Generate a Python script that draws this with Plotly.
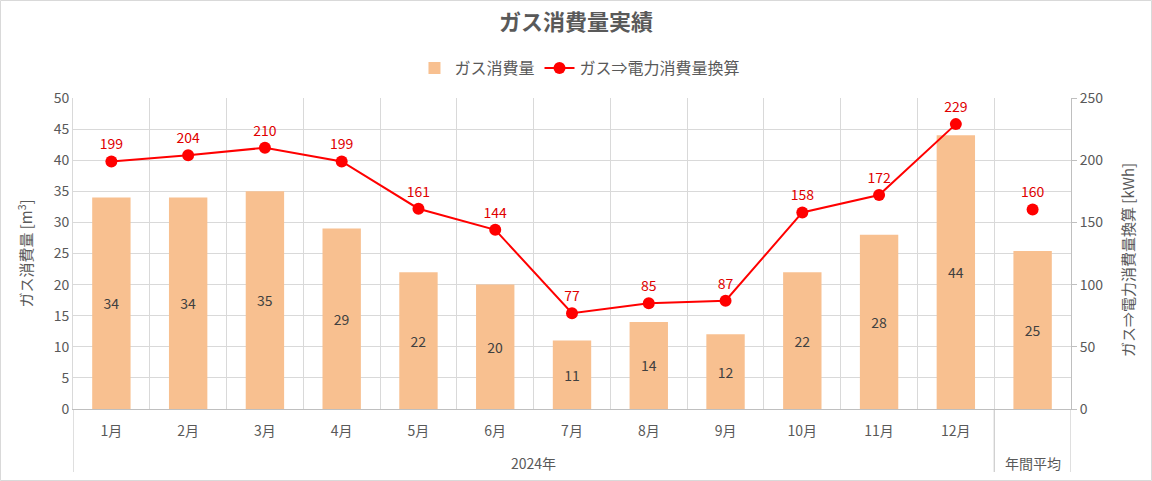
import plotly.graph_objects as go

# ---- data ----
months = ["1月", "2月", "3月", "4月", "5月", "6月", "7月", "8月", "9月", "10月", "11月", "12月"]
year_label = "2024年"
avg_label = "年間平均"
gas_m3 = [34, 34, 35, 29, 22, 20, 11, 14, 12, 22, 28, 44]
gas_m3_avg = 25.4
kwh = [199, 204, 210, 199, 161, 144, 77, 85, 87, 158, 172, 229]
kwh_avg = 160.4

title_text = "ガス消費量実績"
bar_name = "ガス消費量"
line_name = "ガス⇒電力消費量換算"
y1_title = "ガス消費量 [m<sup>3</sup>]"
y2_title = "ガス⇒電力消費量換算 [kWh]"

FONT = "Noto Sans CJK JP"
GRAY = "#595959"
BAR_COLOR = "#F8C090"
RED = "#FF0000"
DIV = "#BFBFBF"

cats = months + [avg_label]
bar_vals = gas_m3 + [gas_m3_avg]
n_cat = len(cats)
n_m = len(months)

fig = go.Figure()

fig.add_trace(go.Bar(
    x=cats, y=bar_vals, name=bar_name,
    marker=dict(color=BAR_COLOR, line=dict(width=0)),
    width=0.5,
    texttemplate="%{y:.0f}", textposition="inside", insidetextanchor="middle",
    textfont=dict(family=FONT, size=14, color="#404040"),
    xaxis="x", yaxis="y",
))

fig.add_trace(go.Scatter(
    x=months, y=kwh, name=line_name,
    mode="lines+markers+text",
    line=dict(color=RED, width=2),
    marker=dict(color=RED, size=12),
    texttemplate="%{y:.0f}", textposition="top center",
    textfont=dict(family=FONT, size=14, color="#E00000"),
    legendgroup="kwh",
    xaxis="x", yaxis="y2",
))
fig.add_trace(go.Scatter(
    x=[avg_label], y=[kwh_avg], name=line_name,
    mode="markers+text",
    marker=dict(color=RED, size=12),
    texttemplate="%{y:.0f}", textposition="top center",
    textfont=dict(family=FONT, size=14, color="#E00000"),
    legendgroup="kwh", showlegend=False,
    xaxis="x", yaxis="y2",
))

L, R, T, B = 73, 81, 98, 72
W, H = 1152, 481
pw, ph = W - L - R, H - T - B

def px(xp):
    return (xp - L) / pw

def py(yp):
    return (H - B - yp) / ph

annotations = [
    # outer category level labels
    dict(text=year_label, xref="x", x=(n_m - 1) / 2, yref="paper", y=py(463),
         yanchor="middle", showarrow=False, font=dict(family=FONT, size=14, color=GRAY)),
    dict(text=avg_label, xref="x", x=avg_label, yref="paper", y=py(463),
         yanchor="middle", showarrow=False, font=dict(family=FONT, size=14, color=GRAY)),
    # secondary axis title
    dict(text=y2_title, xref="paper", x=px(1127), yref="paper", y=py(260),
         xanchor="center", yanchor="middle", textangle=-90, showarrow=False,
         font=dict(family=FONT, size=15, color=GRAY)),
]

# chart border and group dividers below the axis (at category boundaries)
shapes = [dict(type="rect", xref="paper", yref="paper",
               x0=px(0.5), x1=px(W - 0.5), y0=py(H - 0.5), y1=py(0.5),
               line=dict(color="#D9D9D9", width=1), fillcolor="rgba(0,0,0,0)",
               layer="below")]
for xb in (-0.5, n_m - 0.5, n_cat - 0.5):
    shapes.append(dict(type="line", xref="x", x0=xb, x1=xb, yref="paper",
                       y0=py(472), y1=0, line=dict(color=DIV, width=1)))

fig.update_layout(
    width=W, height=H,
    margin=dict(l=L, r=R, t=T, b=B, autoexpand=False),
    paper_bgcolor="white", plot_bgcolor="white",
    font=dict(family=FONT, color=GRAY, size=14),
    title=dict(text="<b>" + title_text + "</b>", x=0.5, xanchor="center",
               y=1 - 22 / H, yanchor="middle", yref="container",
               font=dict(family=FONT, size=22, color=GRAY)),
    legend=dict(orientation="h", x=0.508, xanchor="center", y=py(68), yanchor="middle",
                font=dict(family=FONT, size=16, color=GRAY), traceorder="normal",
                itemwidth=30, bgcolor="rgba(0,0,0,0)"),
    bargap=0.5,
    xaxis=dict(
        type="category", categoryorder="array", categoryarray=cats,
        tickson="boundaries", range=[-0.5, n_cat - 0.5], autorange=False,
        tickmode="array", tickvals=cats, ticktext=months + [""],
        showgrid=True, gridcolor="#D9D9D9", gridwidth=1,
        showline=True, linecolor=DIV, linewidth=1,
        ticks="", ticklabelstandoff=9,
        tickfont=dict(family=FONT, size=14, color=GRAY),
        automargin=False,
    ),
    xaxis2=dict(
        overlaying="x", range=[-0.5, n_cat - 0.5], showgrid=True, gridcolor="#EFEFEF",
        tickvals=list(range(n_cat)), showticklabels=False, ticks="", showline=False,
        zeroline=False, anchor="y",
    ),
    yaxis=dict(
        range=[0, 50], dtick=5, showgrid=True, gridcolor="#D9D9D9", gridwidth=1,
        zeroline=False, showline=True, linecolor="#D9D9D9", ticks="",
        tickfont=dict(family=FONT, size=14, color=GRAY),
        title=dict(text=y1_title, font=dict(family=FONT, size=15, color=GRAY), standoff=17),
        automargin=False,
    ),
    yaxis2=dict(
        overlaying="y", side="right", range=[0, 250], dtick=50,
        showgrid=False, zeroline=False, showline=True, linecolor=DIV,
        ticks="outside", ticklen=5, tickcolor=DIV,
        tickfont=dict(family=FONT, size=14, color=GRAY),
        automargin=False,
    ),
    shapes=shapes,
    annotations=annotations,
)

fig.write_html("out.html", config={"displayModeBar": False},
               post_script="document.body.style.margin='0';document.body.style.overflow='hidden';")
